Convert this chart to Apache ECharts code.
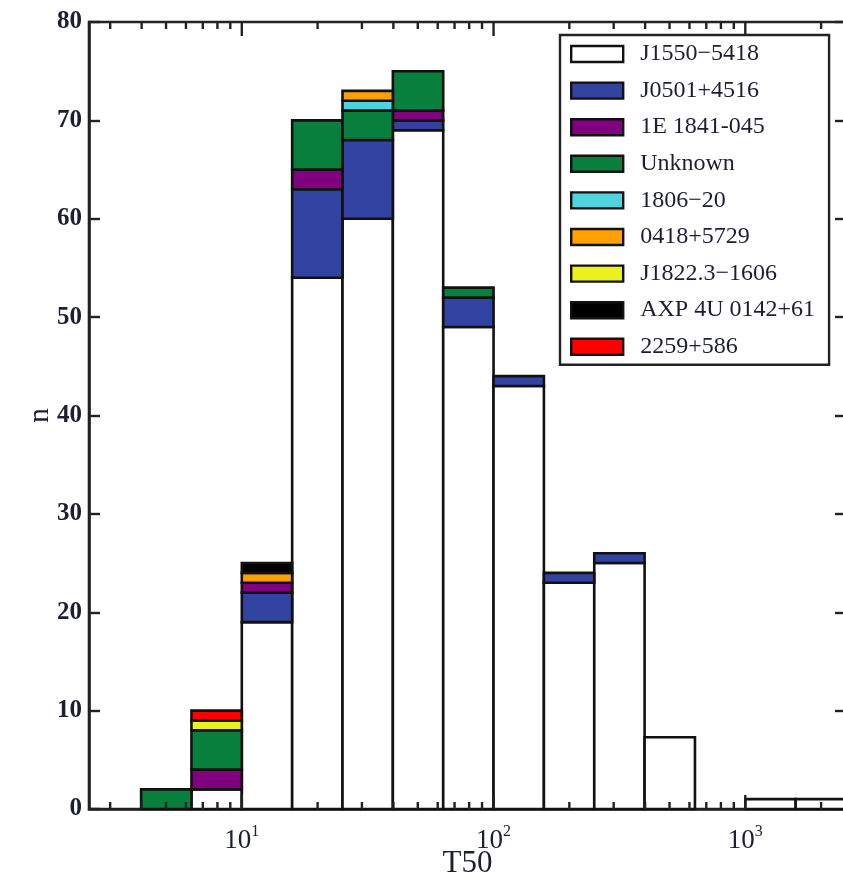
<!DOCTYPE html>
<html>
<head>
<meta charset="utf-8">
<title>T50 histogram by source</title>
<script src="https://cdn.jsdelivr.net/npm/echarts@6/dist/echarts.min.js"></script>
<style>
  html, body { margin: 0; padding: 0; background: #fff; }
  #chart { width: 843px; height: 882px; }
</style>
</head>
<body>
<div id="chart"></div>
<script>
// Lower edge of each histogram bin, in log10(T50); every bin is 0.2 dex wide
const binLowLog = [0.6, 0.8, 1.0, 1.2, 1.4, 1.6, 1.8, 2.0, 2.2, 2.4, 2.6, 3.0, 3.2];
const binWidthLog = 0.2;

// Counts per bin for each source (stacked bottom to top in this order)
const sourceNames = ['J1550\u22125418', 'J0501+4516', '1E 1841-045', 'Unknown', '1806\u221220',
                     '0418+5729', 'J1822.3\u22121606', 'AXP 4U 0142+61', '2259+586'];
const countsJ1550   = [0, 2, 19, 54, 60, 69, 49, 43, 23, 25, 7.3, 1, 1];
const countsJ0501   = [0, 0, 3, 9, 8, 1, 3, 1, 1, 1, 0, 0, 0];
const counts1E1841  = [0, 2, 1, 2, 0, 1, 0, 0, 0, 0, 0, 0, 0];
const countsUnknown = [2, 4, 0, 5, 3, 4, 1, 0, 0, 0, 0, 0, 0];
const counts1806    = [0, 0, 0, 0, 1, 0, 0, 0, 0, 0, 0, 0, 0];
const counts0418    = [0, 0, 1, 0, 1, 0, 0, 0, 0, 0, 0, 0, 0];
const countsJ1822   = [0, 1, 0, 0, 0, 0, 0, 0, 0, 0, 0, 0, 0];
const countsAXP     = [0, 0, 1, 0, 0, 0, 0, 0, 0, 0, 0, 0, 0];
const counts2259    = [0, 1, 0, 0, 0, 0, 0, 0, 0, 0, 0, 0, 0];
const sourceColors = ['#ffffff', '#3243a2', '#800080', '#087f3d', '#4fd3df',
                      '#ff9f00', '#eaf11c', '#000000', '#ff0000'];

// Y axis ticks
const yTicks = [0, 10, 20, 30, 40, 50, 60, 70, 80];

const allCounts = [countsJ1550, countsJ0501, counts1E1841, countsUnknown, counts1806,
                   counts0418, countsJ1822, countsAXP, counts2259];

const xMin = Math.pow(10, 0.393);
const xMax = Math.pow(10, 3.4);
const yMin = yTicks[0], yMax = yTicks[yTicks.length - 1];

// Build stacked segments [x0, x1, y0, y1] per source
const base = binLowLog.map(() => 0);
const stackSeries = sourceNames.map((name, s) => {
  const data = [];
  allCounts[s].forEach((c, i) => {
    if (c > 0) {
      const x0 = Math.pow(10, binLowLog[i]);
      const x1 = Math.pow(10, binLowLog[i] + binWidthLog);
      data.push([x0, x1, base[i], base[i] + c]);
      base[i] += c;
    }
  });
  return {
    name: name,
    type: 'custom',
    coordinateSystem: 'cartesian2d',
    itemStyle: { color: sourceColors[s] },
    encode: { x: [0, 1], y: [2, 3] },
    z: 2,
    clip: false,
    renderItem: function (params, api) {
      const p0 = api.coord([api.value(0), api.value(2)]);
      const p1 = api.coord([api.value(1), api.value(3)]);
      return {
        type: 'rect',
        shape: { x: p0[0], y: p1[1], width: p1[0] - p0[0], height: p0[1] - p1[1] },
        style: { fill: sourceColors[s], stroke: '#111', lineWidth: 2.6 }
      };
    },
    data: data
  };
});

// Log-axis tick marks (1..9 x 10^k) on bottom and top edges, pointing inward
const xTickData = [];
for (let k = 0; k <= 3; k++) {
  for (let m = 1; m <= 9; m++) {
    const v = m * Math.pow(10, k);
    if (v > xMin && v < xMax) xTickData.push([v, m === 1 ? 1 : 0]);
  }
}
const tickSeries = {
  name: 'ticks',
  type: 'custom',
  coordinateSystem: 'cartesian2d',
  encode: { x: 0 },
  z: 5,
  silent: true,
  renderItem: function (params, api) {
    const v = api.value(0);
    const len = api.value(1) ? 14 : 7;
    const pb = api.coord([v, yMin]);
    const pt = api.coord([v, yMax]);
    const st = { stroke: '#222', lineWidth: 2.4 };
    return {
      type: 'group',
      children: [
        { type: 'line', shape: { x1: pb[0], y1: pb[1], x2: pb[0], y2: pb[1] - len }, style: st },
        { type: 'line', shape: { x1: pt[0], y1: pt[1], x2: pt[0], y2: pt[1] + len }, style: st }
      ]
    };
  },
  data: xTickData
};

const fontFam = '"Liberation Serif", "DejaVu Serif", serif';
const textCol = '#1d1d33';

const chart = echarts.init(document.getElementById('chart'), null, { renderer: 'canvas' });
chart.setOption({
  animation: false,
  backgroundColor: '#ffffff',
  grid: {
    left: 89, top: 22, right: -3, bottom: 73,
    outerBoundsMode: 'none',
    containLabel: false,
    show: true, borderColor: '#222', borderWidth: 2.6, backgroundColor: 'transparent'
  },
  legend: {
    orient: 'vertical',
    left: 560, top: 35,
    width: 277,
    backgroundColor: '#fff',
    borderColor: '#222', borderWidth: 2.4, borderRadius: 0,
    padding: [7, 14, 6, 10],
    itemWidth: 52, itemHeight: 16, itemGap: 12.6,
    icon: 'rect',
    itemStyle: { borderColor: '#111', borderWidth: 2.4 },
    textStyle: { fontFamily: fontFam, fontSize: 24, color: textCol, padding: [0, 0, 0, 12] },
    data: sourceNames
  },
  xAxis: {
    type: 'log', logBase: 10, min: xMin, max: xMax,
    name: 'T50', nameLocation: 'middle', nameGap: 39, nameMoveOverlap: false,
    nameTextStyle: { fontFamily: fontFam, fontSize: 31, color: textCol },
    axisLine: { show: true, lineStyle: { color: '#222', width: 2.6 } },
    axisTick: { show: false },
    splitLine: { show: false },
    axisLabel: {
      margin: 15,
      showMinLabel: false, showMaxLabel: false,
      formatter: function (v) {
        const e = Math.log10(v);
        const r = Math.round(e);
        if (Math.abs(e - r) > 1e-6) return '';
        return '{b|10}{s|' + r + '}';
      },
      rich: {
        b: { fontFamily: fontFam, fontSize: 27, color: textCol, lineHeight: 30, verticalAlign: 'bottom' },
        s: { fontFamily: fontFam, fontSize: 16, color: textCol, lineHeight: 18, verticalAlign: 'top' }
      }
    }
  },
  yAxis: [{
    type: 'value', min: yMin, max: yMax, interval: 10,
    name: 'n', nameLocation: 'middle', nameGap: 34, nameRotate: 90, nameMoveOverlap: false,
    nameTextStyle: { fontFamily: fontFam, fontSize: 30, color: textCol },
    axisLine: { show: true, lineStyle: { color: '#222', width: 2.6 } },
    axisTick: { show: true, inside: true, length: 11, lineStyle: { color: '#222', width: 2.4 } },
    splitLine: { show: false },
    axisLabel: { fontFamily: fontFam, fontSize: 25, color: textCol, fontWeight: 'bold', margin: 7 }
  }, {
    type: 'value', position: 'right', min: yMin, max: yMax, interval: 10,
    axisLine: { show: true, lineStyle: { color: '#222', width: 2.6 } },
    axisTick: { show: true, inside: true, length: 11, lineStyle: { color: '#222', width: 2.4 } },
    splitLine: { show: false },
    axisLabel: { show: false }
  }],
  series: stackSeries.concat([tickSeries])
});
</script>
</body>
</html>
